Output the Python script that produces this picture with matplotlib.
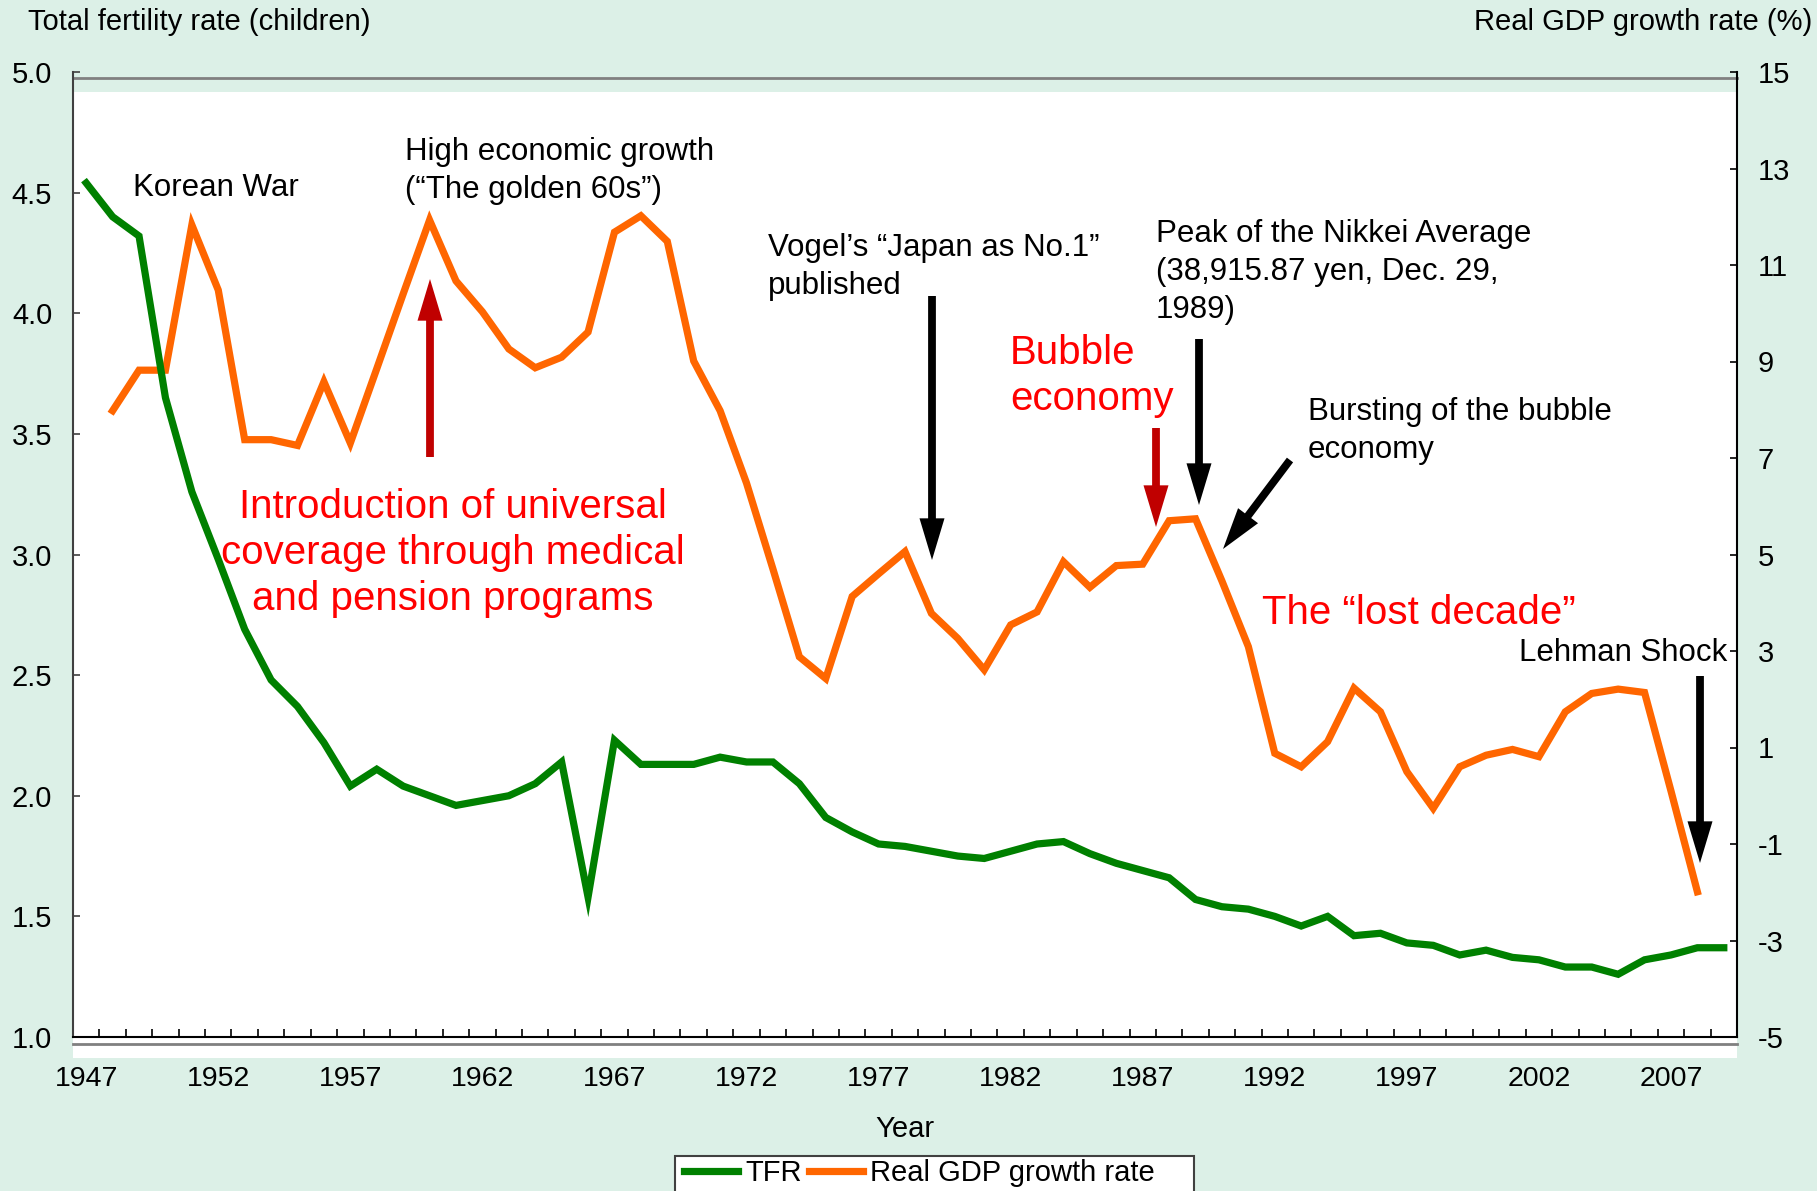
import numpy as np
import matplotlib
matplotlib.use('Agg')
import matplotlib.pyplot as plt
from matplotlib.patches import Rectangle, FancyArrowPatch
from matplotlib.lines import Line2D
from matplotlib.ticker import FormatStrFormatter

plt.rcParams['font.family'] = ['Liberation Sans', 'DejaVu Sans']
plt.rcParams['axes.unicode_minus'] = False

W, H = 1817, 1191

years = list(range(1947, 2010))
tfr = [4.54, 4.40, 4.32, 3.65, 3.26, 2.98, 2.69, 2.48, 2.37, 2.22,
       2.04, 2.11, 2.04, 2.00, 1.96, 1.98, 2.00, 2.05, 2.14, 1.58,
       2.23, 2.13, 2.13, 2.13, 2.16, 2.14, 2.14, 2.05, 1.91, 1.85,
       1.80, 1.79, 1.77, 1.75, 1.74, 1.77, 1.80, 1.81, 1.76, 1.72,
       1.69, 1.66, 1.57, 1.54, 1.53, 1.50, 1.46, 1.50, 1.42, 1.43,
       1.39, 1.38, 1.34, 1.36, 1.33, 1.32, 1.29, 1.29, 1.26, 1.32,
       1.34, 1.37, 1.37]

gdp_years = list(range(1948, 2009))
gdp = [7.98, 8.82, 8.82, 11.83, 10.48, 7.38, 7.38, 7.26, 8.58, 7.31,
       8.85, 10.40, 11.93, 10.67, 10.03, 9.26, 8.87, 9.09, 9.61, 11.68,
       12.02, 11.49, 9.01, 7.98, 6.48, 4.70, 2.88, 2.43, 4.13, 4.60,
       5.06, 3.78, 3.26, 2.61, 3.54, 3.81, 4.85, 4.32, 4.77, 4.80,
       5.70, 5.74, 4.45, 3.09, 0.88, 0.60, 1.12, 2.23, 1.74, 0.50,
       -0.26, 0.60, 0.84, 0.96, 0.81, 1.74, 2.12, 2.21, 2.14, 0.10,
       -1.99]

year_labels = list(range(1947, 2008, 5))
tfr_ticks = np.arange(1.0, 5.01, 0.5)
gdp_ticks = list(range(-5, 16, 2))

bg = '#DCF0E7'
green = '#008000'
orange = '#FF6600'
red = '#FF0000'
darkred = '#C00000'


def fx(x):
    return x / W


def fy(y):
    return 1 - y / H


fig = plt.figure(figsize=(W / 100, H / 100), dpi=100, facecolor=bg)

# white plot area and the grey frame lines
fig.add_artist(Rectangle((fx(73), fy(1058)), (1737 - 73) / W, (1058 - 92) / H,
                         transform=fig.transFigure, facecolor='white',
                         edgecolor='none', zorder=-5))
for yy in (78, 1044):
    fig.add_artist(Line2D([fx(73), fx(1737)], [fy(yy), fy(yy)],
                          transform=fig.transFigure, color='#808080', lw=2, zorder=-4))

ax = fig.add_axes([fx(73), fy(1037), (1737 - 73) / W, (1037 - 72) / H])
ax2 = ax.twinx()
ax.set_zorder(2)
ax2.set_zorder(1)
ax.patch.set_visible(False)
ax2.patch.set_visible(False)

ax2.plot(gdp_years, gdp, color=orange, lw=5.2, solid_joinstyle='miter',
         label='Real GDP growth rate')
ax.plot(years, tfr, color=green, lw=5.2, solid_joinstyle='miter', label='TFR')

ax.set_xlim(1946.5, 2009.5)
ax.set_ylim(1, 5)
ax2.set_ylim(-5, 15)

ax.set_xticks(year_labels)
ax.set_xticks(np.arange(1947.5, 2009, 1), minor=True)
ax.tick_params(axis='x', which='major', length=0, pad=21, labelsize=20.5)
ax.tick_params(axis='x', which='minor', direction='in', length=6, width=1.2)
ax.set_yticks(tfr_ticks)
ax.yaxis.set_major_formatter(FormatStrFormatter('%.1f'))
ax.tick_params(axis='y', direction='in', length=5, width=1.2, pad=15,
               labelsize=21, color='#404040')
ax2.set_yticks(gdp_ticks)
ax2.tick_params(axis='y', direction='in', length=5, width=1.2, pad=15,
                labelsize=21)

for a in (ax, ax2):
    a.spines['top'].set_visible(False)
ax.spines['right'].set_visible(False)
ax.spines['left'].set_color('#404040')
ax.spines['left'].set_linewidth(1.5)
ax.spines['bottom'].set_linewidth(1.5)
ax2.spines['left'].set_visible(False)
ax2.spines['bottom'].set_visible(False)
ax2.spines['right'].set_linewidth(1.5)

# axis titles
fig.text(fx(28), fy(22), 'Total fertility rate (children)', fontsize=21,
         ha='left', va='center')
fig.text(fx(1812), fy(22), 'Real GDP growth rate (%)', fontsize=21,
         ha='right', va='center')
fig.text(fx(905), fy(1129), 'Year', fontsize=21, ha='center', va='center')

# legend
fig.add_artist(Rectangle((fx(675), fy(1220)), (1194 - 675) / W, (1220 - 1156) / H,
                         transform=fig.transFigure, facecolor='white',
                         edgecolor='#404040', lw=1.5, zorder=3))
leg_handles = [Line2D([], [], color=green, lw=5.2), Line2D([], [], color=orange, lw=5.2)]
leg = fig.legend(leg_handles, ['TFR', 'Real GDP growth rate'], ncol=2,
                 loc='center left', bbox_to_anchor=(fx(684), fy(1173)),
                 frameon=False, fontsize=21, borderpad=0, borderaxespad=0,
                 handlelength=1.85, handletextpad=0.25, columnspacing=0.25)
leg.set_zorder(4)

# annotation texts
black_fs = 22.5
red_fs = 29
black_ls = 1.33
red_ls = 1.27
fig.text(fx(133), fy(188), 'Korean War', fontsize=black_fs, ha='left', va='center')
fig.text(fx(405), fy(171), 'High economic growth\n(\u201cThe golden 60s\u201d)',
         fontsize=black_fs, ha='left', va='center', linespacing=black_ls)
fig.text(fx(453), fy(553), 'Introduction of universal\ncoverage through medical\nand pension programs',
         fontsize=red_fs, color=red, ha='center', va='center', linespacing=red_ls)
fig.text(fx(768), fy(267), 'Vogel\u2019s \u201cJapan as No.1\u201d\npublished',
         fontsize=black_fs, ha='left', va='center', linespacing=black_ls)
fig.text(fx(1156), fy(272), 'Peak of the Nikkei Average\n(38,915.87 yen, Dec. 29,\n1989)',
         fontsize=black_fs, ha='left', va='center', linespacing=black_ls)
fig.text(fx(1010), fy(376), 'Bubble\neconomy', fontsize=red_fs, color=red,
         ha='left', va='center', linespacing=red_ls)
fig.text(fx(1308), fy(431), 'Bursting of the bubble\neconomy', fontsize=black_fs,
         ha='left', va='center', linespacing=black_ls)
fig.text(fx(1262), fy(613), 'The \u201clost decade\u201d', fontsize=red_fs, color=red,
         ha='left', va='center')
fig.text(fx(1519), fy(653), 'Lehman Shock', fontsize=black_fs, ha='left', va='center')

# arrows (tail -> tip, figure pixels from top-left)
arrows = [
    ((430, 457), (430, 279), darkred),
    ((932, 296), (932, 560), 'black'),
    ((1156, 428), (1156, 527), darkred),
    ((1199, 339), (1199, 505), 'black'),
    ((1290, 460), (1223, 549), 'black'),
    ((1700, 676), (1700, 863), 'black'),
]
for (x0, y0), (x1, y1), c in arrows:
    fig.add_artist(FancyArrowPatch((fx(x0), fy(y0)), (fx(x1), fy(y1)),
                                   transform=fig.transFigure,
                                   arrowstyle='simple,head_length=3.0,head_width=1.8,tail_width=0.56',
                                   mutation_scale=10, fc=c, ec='none', lw=0,
                                   shrinkA=0, shrinkB=0, zorder=5))

fig.savefig('out.png', dpi=100, facecolor=bg)
